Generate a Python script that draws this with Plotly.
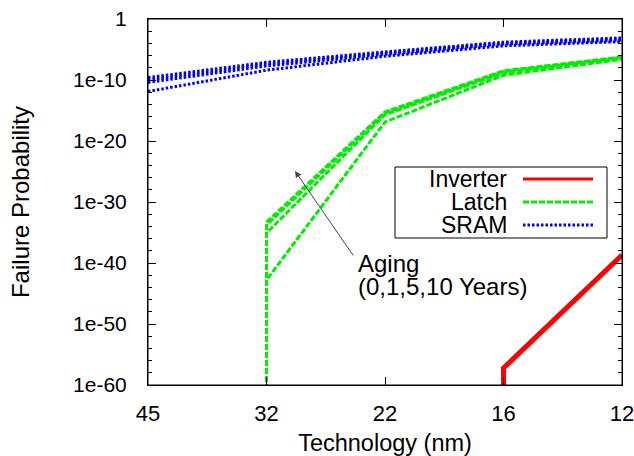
import plotly.graph_objects as go

# ---------------- data ----------------
tech = ["45", "32", "22", "16", "12"]          # technology node (nm)
aging_years = [0, 1, 5, 10]

# SRAM failure probability per aging level, at each node in `tech`
sram = {
    0:  [1.3e-12, 4.0e-9, 8.0e-7, 4.0e-5, 2.0e-4],
    1:  [4.0e-11, 2.0e-8, 1.6e-6, 8.0e-5, 3.2e-4],
    5:  [1.0e-10, 4.0e-8, 2.5e-6, 1.0e-4, 5.0e-4],
    10: [2.5e-10, 8.0e-8, 4.0e-6, 1.6e-4, 8.0e-4],
}

# Latch: below the plotted floor before 32 nm (drawn as a drop at 32 nm)
latch_x = ["32", "32", "22", "16", "12"]
latch = {
    0:  [1e-70, 1.6e-43, 1.3e-17, 6.0e-10, 2.5e-7],
    1:  [1e-70, 8.0e-36, 2.0e-16, 1.6e-9, 4.0e-7],
    5:  [1e-70, 1.6e-34, 4.0e-16, 2.5e-9, 5.0e-7],
    10: [1e-70, 5.0e-34, 6.0e-16, 3.2e-9, 6.0e-7],
}

# Inverter: below the floor before 16 nm
inv_x = ["16", "16", "12"]
inverter = [1e-70, 6.0e-58, 2.0e-39]

ytick_vals = [1e-60, 1e-50, 1e-40, 1e-30, 1e-20, 1e-10, 1]
ytick_text = ["1e-60", "1e-50", "1e-40", "1e-30", "1e-20", "1e-10", "1"]
yminor_vals = [10.0 ** (-k) for k in range(2, 60, 2) if k % 10 != 0]

series_names = ["Inverter", "Latch", "SRAM"]
aging_label = ["Aging", "(0,1,5,10 Years)"]
RED, GREEN, BLUE = "#ff0000", "#00ee00", "#0000ff"
styles = {
    "Inverter": dict(color=RED, width=5, dash="solid"),
    "Latch": dict(color=GREEN, width=3, dash="6px,2px"),
    "SRAM": dict(color=BLUE, width=3, dash="2.5px,2px"),
}

FONT = "Liberation Sans, Arial, sans-serif"
W, H = 634, 456
L, R, T, B = 148, 12, 19, 71

fig = go.Figure()

fig.add_trace(go.Scatter(x=inv_x, y=inverter, mode="lines", line=styles["Inverter"],
                         name="Inverter", showlegend=False))
for a in aging_years:
    fig.add_trace(go.Scatter(x=latch_x, y=latch[a], mode="lines", line=styles["Latch"],
                             name=f"Latch {a}y", showlegend=False))
for a in aging_years:
    fig.add_trace(go.Scatter(x=tech, y=sram[a], mode="lines", line=styles["SRAM"],
                             name=f"SRAM {a}y", showlegend=False))

fig.update_xaxes(
    type="category", categoryorder="array", categoryarray=tech,
    range=[0, len(tech) - 1], showgrid=False, zeroline=False, automargin=False,
    showline=True, linecolor="black", linewidth=1, mirror="ticks",
    ticks="inside", ticklen=8, tickcolor="black",
    tickfont=dict(family=FONT, size=22, color="black"), ticklabelstandoff=9,
    title=dict(text="Technology (nm)", font=dict(family=FONT, size=23.5, color="black"), standoff=9),
)
fig.update_yaxes(
    type="log", range=[-60, 0], showgrid=False, zeroline=False, automargin=False,
    showline=True, linecolor="black", linewidth=1, mirror="ticks",
    ticks="inside", ticklen=8, tickcolor="black",
    tickvals=ytick_vals, ticktext=ytick_text,
    minor=dict(tickvals=yminor_vals, ticks="inside", ticklen=4, tickcolor="black", showgrid=False),
    tickfont=dict(family=FONT, size=21, color="black"), ticklabelstandoff=16,
    title=dict(text="Failure Probability", font=dict(family=FONT, size=24, color="black"), standoff=36),
)

# pixel -> paper helpers for legend box
pw, ph = W - L - R, H - T - B
def px(xp): return (xp - L) / pw
def py(yp): return (H - B - yp) / ph

shapes = [
    dict(type="rect", xref="paper", yref="paper", x0=0, x1=1, y0=0, y1=1,
         line=dict(color="black", width=1), layer="above"),
    dict(type="rect", xref="paper", yref="paper", x0=px(395), x1=px(607), y0=py(238), y1=py(167),
         line=dict(color="black", width=1), fillcolor="white", layer="above"),
]
annotations = []
row_y = [179, 202, 225]
for name, ry in zip(series_names, row_y):
    st = styles[name]
    shapes.append(dict(type="line", xref="paper", yref="paper", x0=px(523), x1=px(593), y0=py(ry), y1=py(ry),
                       line=dict(color=st["color"], width=3, dash=st["dash"]), layer="above"))
    annotations.append(dict(xref="paper", yref="paper", x=px(509), y=py(ry), text=name, showarrow=False,
                            xanchor="right", yanchor="middle", font=dict(family=FONT, size=23, color="black")))

# Aging arrow and label (x in category index, y in log10 units)
annotations.append(dict(x=1.24, y=-24.9, ax=1.74, ay=-39.0, xref="x", yref="y", axref="x", ayref="y",
                        text="", showarrow=True, arrowhead=2, arrowsize=1.3, arrowwidth=1, arrowcolor="#444444"))
for line_text, ly in zip(aging_label, [-40.0, -43.8]):
    annotations.append(dict(x=1.755, y=ly, xref="x", yref="y", text=line_text,
                            showarrow=False, xanchor="left", yanchor="middle", align="left",
                            font=dict(family=FONT, size=24, color="black")))

fig.update_layout(
    width=W, height=H, margin=dict(l=L, r=R, t=T, b=B),
    paper_bgcolor="white", plot_bgcolor="white",
    shapes=shapes, annotations=annotations, showlegend=False,
)

fig.write_html("out.html", config={"displayModeBar": False},
               post_script="document.body.style.margin='0';document.body.style.overflow='hidden';")
